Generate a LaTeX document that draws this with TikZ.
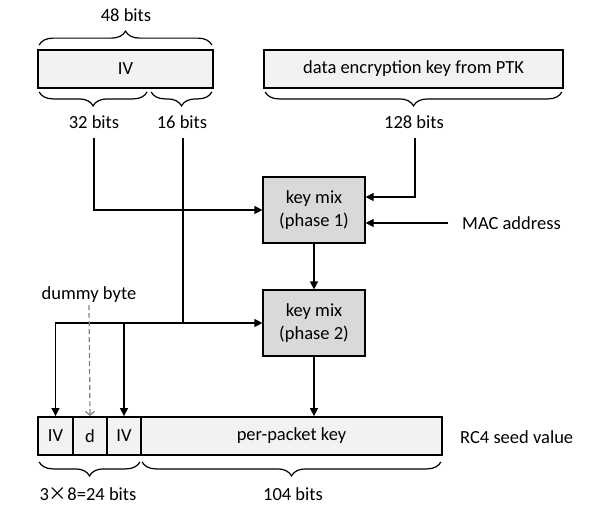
\documentclass[tikz,border=0pt]{standalone}
\usepackage{fontspec}
\setmainfont{Carlito}
\newfontfamily\cjkfont{Noto Sans CJK SC}
\usetikzlibrary{arrows.meta, positioning, decorations.pathreplacing}

\begin{document}
\begin{tikzpicture}[
  x=1pt, y=-1pt,
  every node/.style={font=\fontsize{18.5}{23}\selectfont},
  field/.style    = {rectangle, draw=black, fill=gray!10, line width=1.8pt, inner sep=0pt, minimum height=38pt},
  mixblock/.style = {rectangle, draw=black, fill=gray!30, line width=1.2pt, inner sep=0pt, minimum width=102pt, minimum height=66pt, align=center},
  lbl/.style      = {inner sep=2pt},
  arrow/.style    = {-{Triangle[length=8pt, width=8pt]}, line width=1.2pt},
  dummyarrow/.style = {-{Straight Barb[length=4pt, width=9pt]}, draw=gray, dash pattern=on 5pt off 3pt, line width=1.2pt},
  bracetop/.style = {decorate, decoration={brace, amplitude=14pt}, line width=1.2pt},
  bracebot/.style = {decorate, decoration={brace, mirror, amplitude=14pt}, line width=1.2pt}
]
\useasboundingbox (0,0) rectangle (602,512);

%% TOP ROW: IV and key from PTK
\node[field, minimum width=175pt] (iv)  at (125.5, 69) {IV};
\node[field, minimum width=299pt] (ptk) at (413.5, 69) {data encryption key from PTK};

\node[lbl] (l48)  at (126, 15)  {48 bits};
\node[lbl] (l32)  at (94, 122)  {32 bits};
\node[lbl] (l16)  at (182, 122) {16 bits};
\node[lbl] (l128) at (414, 122) {128 bits};

%% MIDDLE: key mixing
\node[mixblock] (mix1) at (314, 210) {key mix\\(phase 1)};
\node[mixblock] (mix2) at (314, 323) {key mix\\(phase 2)};
\node[lbl, anchor=west] (mac)   at (460, 223) {MAC address};
\node[lbl]              (dummy) at (89, 295)  {dummy byte};

%% BOTTOM ROW: RC4 seed
\node[field, minimum width=35pt]  (ivA) at (55.5, 436)  {IV};
\node[field, minimum width=34pt]  (d)   at (90, 436)    {d};
\node[field, minimum width=34pt]  (ivB) at (124, 436)   {IV};
\node[field, minimum width=301pt] (ppk) at (291.5, 436) {per-packet key};
\node[lbl, anchor=west] (rc4)  at (458, 437) {RC4 seed value};
\node[lbl]              (l24)  at (88, 494)  {3{\cjkfont ×}8=24 bits};
\node[lbl]              (l104) at (293, 494) {104 bits};

%% Braces
\draw[bracetop] ([xshift=2pt, yshift=4pt]iv.north west) -- ([xshift=-2pt, yshift=4pt]iv.north east);
\draw[bracebot] ([xshift=2pt, yshift=-3pt]iv.south west) -- ([xshift=110pt, yshift=-3pt]iv.south west);
\draw[bracebot] ([xshift=114pt, yshift=-3pt]iv.south west) -- ([xshift=-2pt, yshift=-3pt]iv.south east);
\draw[bracebot] ([xshift=2pt, yshift=-3pt]ptk.south west) -- ([xshift=-2pt, yshift=-3pt]ptk.south east);
\draw[bracebot] ([xshift=2pt, yshift=-6pt]ivA.south west) -- ([xshift=-2pt, yshift=-6pt]ivB.south east);
\draw[bracebot] ([xshift=2pt, yshift=-6pt]ppk.south west) -- ([xshift=-2pt, yshift=-6pt]ppk.south east);

%% Arrows
\draw[arrow, shorten <=7pt] (l32.south) |- (mix1.west);
\draw[arrow, shorten <=7pt] ([xshift=1pt]l128.south) |- ([yshift=13pt]mix1.east);
\draw[arrow, shorten <=12pt] (mac.west) -- (mac.west -| mix1.east);
\draw[arrow] (mix1) -- (mix2);
\draw[arrow, shorten <=7pt] ([xshift=1pt]l16.south) |- (mix2.west);
\coordinate (fork) at ([xshift=1pt]l16.south |- mix2.west);
\draw[arrow] (fork) -| (ivA.north);
\draw[arrow] (ivB.north |- fork) -- (ivB.north);
\draw[dummyarrow] (dummy.south) -- (d.north);
\draw[arrow] (mix2.south) -- (mix2.south |- ppk.north);
\end{tikzpicture}
\end{document}
